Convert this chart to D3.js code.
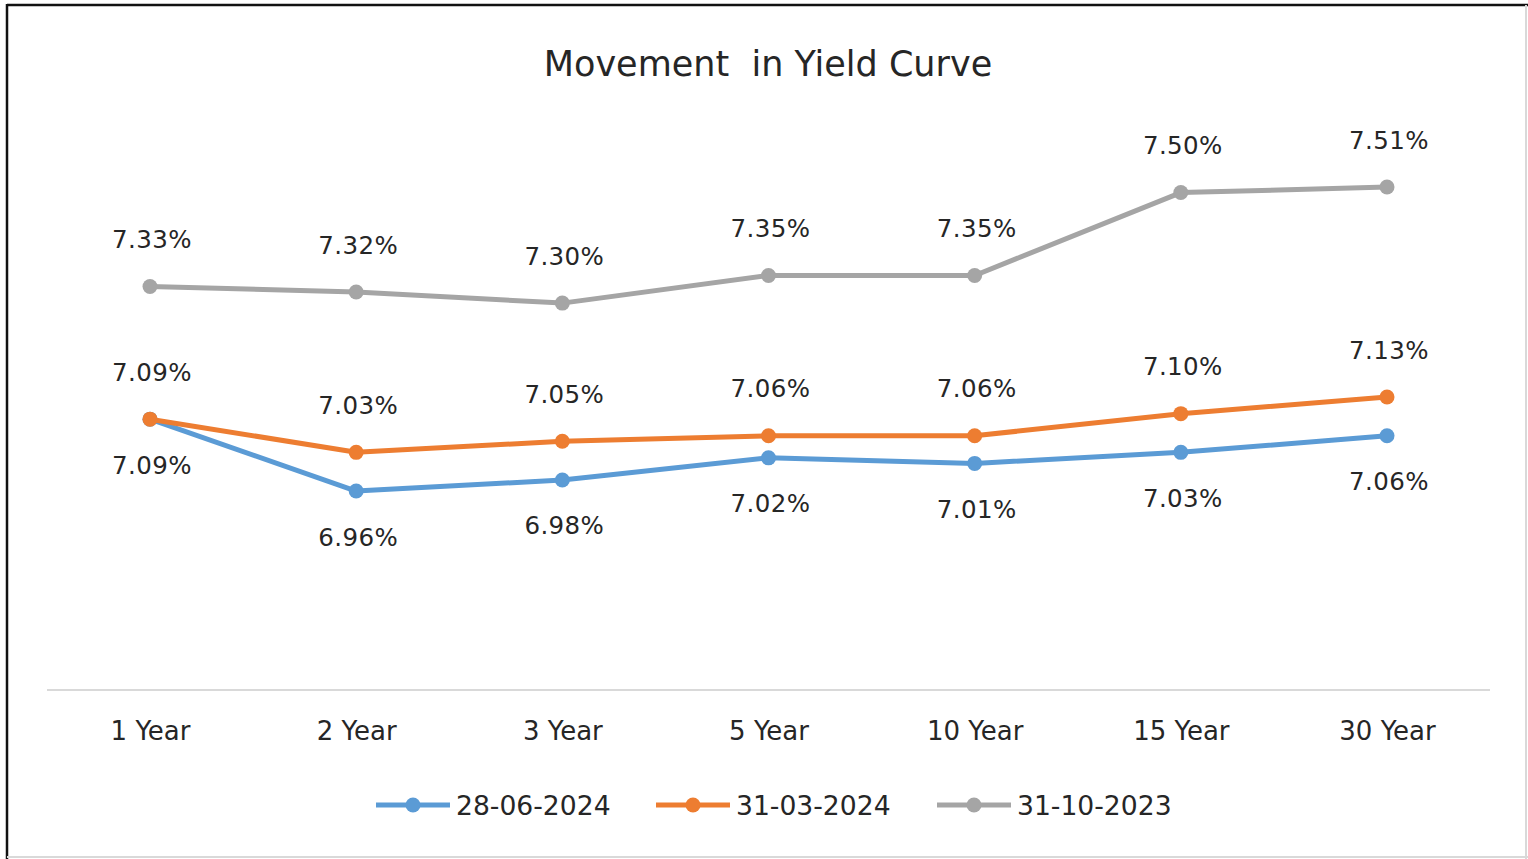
<!DOCTYPE html>
<html><head><meta charset="utf-8">
<script src="https://cdn.jsdelivr.net/npm/d3@7"></script>
<style>body{margin:0;background:#fff}svg{display:block}text{font-family:"DejaVu Sans",sans-serif;fill:#262626;white-space:pre}</style>
</head><body><svg id="c" width="1528" height="859"></svg>
<script>
const categories = ["1 Year","2 Year","3 Year","5 Year","10 Year","15 Year","30 Year"];
const seriesNames = ["28-06-2024","31-03-2024","31-10-2023"];
const s1 = [7.09,6.96,6.98,7.02,7.01,7.03,7.06];
const s2 = [7.09,7.03,7.05,7.06,7.06,7.10,7.13];
const s3 = [7.33,7.32,7.30,7.35,7.35,7.50,7.51];
const colors = ["#5B9BD5","#ED7D31","#A5A5A5"];
const labelPos = ["below","above","above"];

const svg = d3.select("#c");
svg.append("rect").attr("x",0).attr("y",0).attr("width",1528).attr("height",859).attr("fill","#fff");
svg.append("line").attr("x1",7).attr("x2",1528).attr("y1",5).attr("y2",5).attr("stroke","#111").attr("stroke-width",2.5);
svg.append("line").attr("x1",7).attr("x2",7).attr("y1",4).attr("y2",859).attr("stroke","#111").attr("stroke-width",2.5);
svg.append("line").attr("x1",7).attr("x2",1528).attr("y1",857).attr("y2",857).attr("stroke","#d9d9d9").attr("stroke-width",2);
svg.append("line").attr("x1",1526).attr("x2",1526).attr("y1",5).attr("y2",859).attr("stroke","#d9d9d9").attr("stroke-width",2);

const x = d3.scalePoint().domain(categories).range([150,1387]);
const y = d3.scaleLinear().domain([6.6,7.6]).range([690,137.3]);

svg.append("text").attr("x",768).attr("y",64).attr("text-anchor","middle").attr("dominant-baseline","central")
  .attr("xml:space","preserve").style("font-size","35px").text("Movement  in Yield Curve");

const ax = svg.append("g").attr("transform","translate(0,690)")
  .call(d3.axisBottom(x).tickSize(0).tickPadding(0));
ax.select(".domain").remove();
ax.append("line").attr("x1",47).attr("x2",1490).attr("stroke","#d9d9d9").attr("stroke-width",2);
ax.selectAll(".tick text").attr("y",41).attr("dy",null).attr("dominant-baseline","central")
  .style("font-size","26px").style("font-family","'DejaVu Sans',sans-serif").attr("fill","#262626");

const all = [s1,s2,s3];
const line = d3.line().x((d,i)=>x(categories[i])).y(d=>y(d));
all.forEach((vals,k)=>{
  const g = svg.append("g");
  g.append("path").attr("d",line(vals)).attr("fill","none").attr("stroke",colors[k]).attr("stroke-width",5).attr("stroke-linejoin","round").attr("stroke-linecap","round");
  g.selectAll("circle").data(vals).enter().append("circle")
    .attr("cx",(d,i)=>x(categories[i])).attr("cy",d=>y(d)).attr("r",7.5).attr("fill",colors[k]);
  g.selectAll("text").data(vals).enter().append("text")
    .attr("x",(d,i)=>x(categories[i])+2).attr("y",d=>y(d)+(labelPos[k]==="above"?-47:46))
    .attr("text-anchor","middle").attr("dominant-baseline","central").style("font-size","24.5px")
    .style("letter-spacing","0.4px")
    .text(d=>d.toFixed(2)+"%");
});

const legX = [376,656,937];
seriesNames.forEach((n,k)=>{
  const g = svg.append("g").attr("transform",`translate(${legX[k]},805)`);
  g.append("line").attr("x1",0).attr("x2",74).attr("stroke",colors[k]).attr("stroke-width",5);
  g.append("circle").attr("cx",37).attr("r",7.5).attr("fill",colors[k]);
  g.append("text").attr("x",80).attr("dominant-baseline","central").style("font-size","26.6px").text(n);
});
</script></body></html>
